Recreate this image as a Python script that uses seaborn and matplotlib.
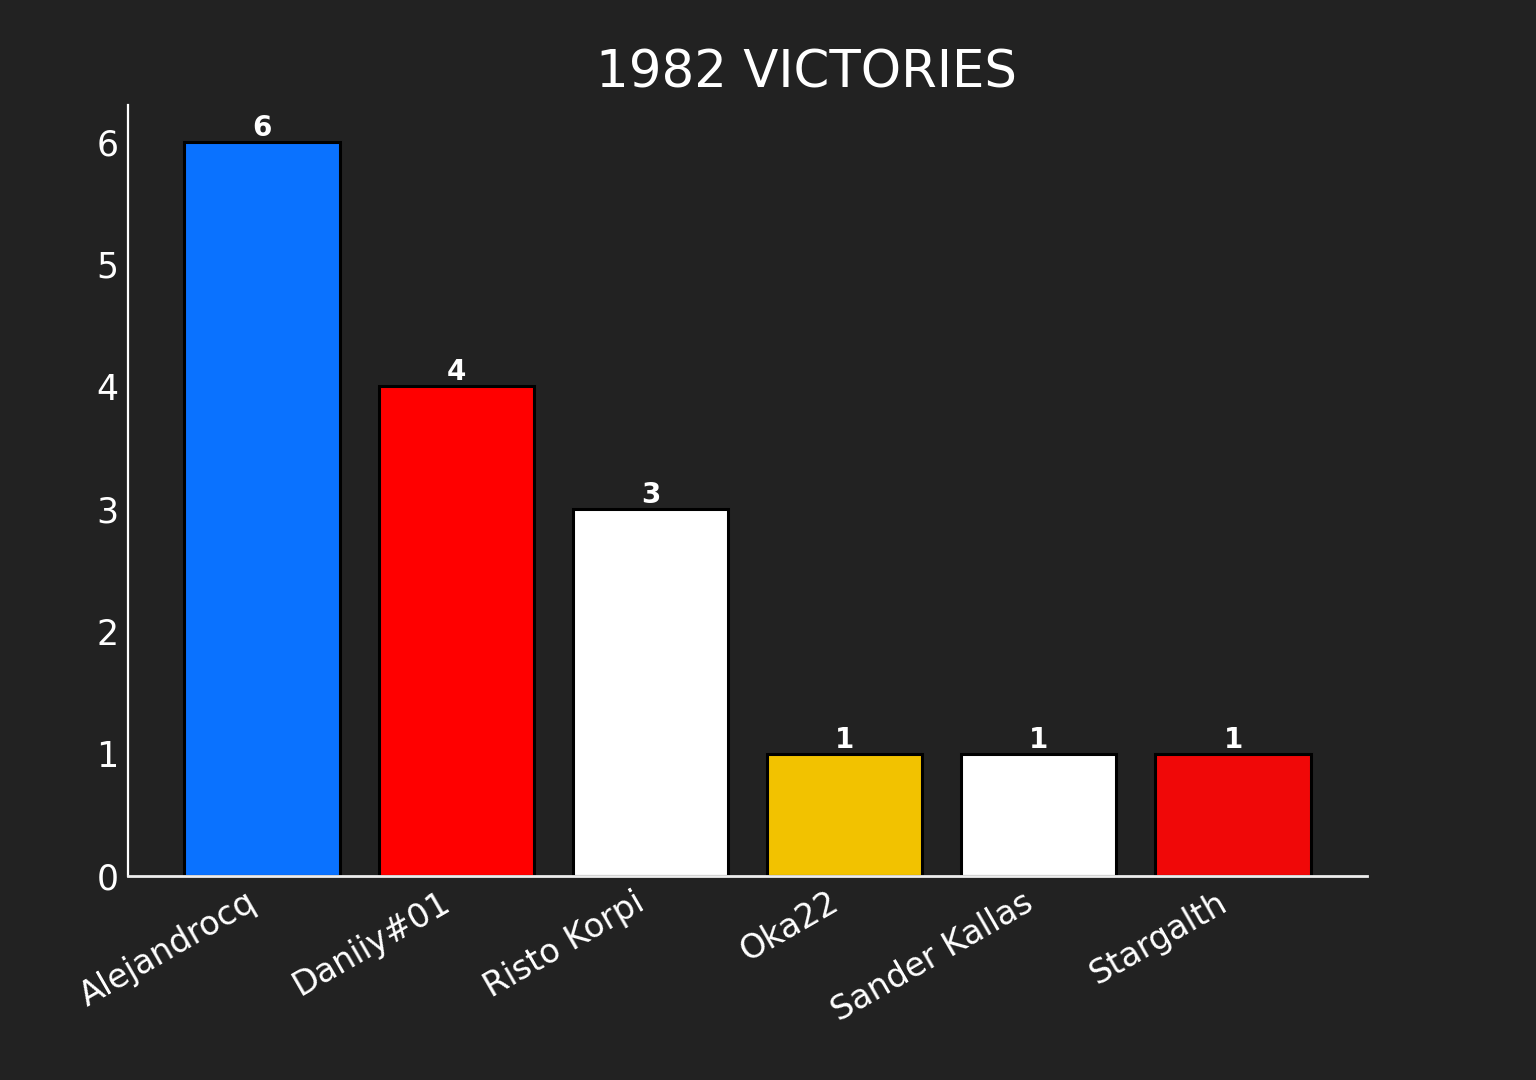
import matplotlib
matplotlib.use("Agg")
import matplotlib.pyplot as plt
import seaborn as sns
import pandas as pd

drivers = ["Alejandrocq", "Daniiy#01", "Risto Korpi", "Oka22", "Sander Kallas", "Stargalth"]
victories = [6, 4, 3, 1, 1, 1]
colors = ["#0A72FF", "#FF0000", "#FFFFFF", "#F2C200", "#FFFFFF", "#F00808"]
title = "1982 VICTORIES"

bg = "#222222"
sns.set_style("dark")
plt.rcParams["font.family"] = ["DejaVu Sans"]
plt.rcParams["axes.axisbelow"] = False

df = pd.DataFrame({"driver": drivers, "victories": victories})

fig = plt.figure(figsize=(7.68, 5.4), dpi=200, facecolor=bg)
ax = fig.add_axes([128/1536, 1 - 876/1080, (1367 - 128)/1536, (876 - 105)/1080])
ax.set_facecolor(bg)
ax.set_axisbelow(False)

sns.barplot(data=df, x="driver", y="victories", hue="driver", palette=colors,
            legend=False, ax=ax, width=0.8, edgecolor="black", linewidth=1.1,
            saturation=1)

for c in ax.containers:
    ax.bar_label(c, fmt="%d", padding=0, color="white", fontsize=10, fontweight="bold")

ax.set_xlim(-0.69, 5.69)
ax.set_ylim(0, 6.3)
ax.set_xlabel("")
ax.set_ylabel("")
ax.grid(False)
fig.text(806/1536, 1 - 74/1080, title, color="white", fontsize=18.5,
         ha="center", va="center")

for s in ["top", "right"]:
    ax.spines[s].set_visible(False)
ax.spines["left"].set_color("white")
ax.spines["left"].set_linewidth(0.8)
ax.spines["bottom"].set_color("#EEEEEE")
ax.spines["bottom"].set_linewidth(1.0)

ax.tick_params(axis="both", direction="in", colors="white", length=3.5, width=0.8)
ax.tick_params(axis="y", labelsize=12.5)
ax.tick_params(axis="x", labelsize=12)
plt.setp(ax.get_xticklabels(), rotation=30, ha="right", rotation_mode="default")

fig.savefig("out.png", dpi=200, facecolor=bg)
